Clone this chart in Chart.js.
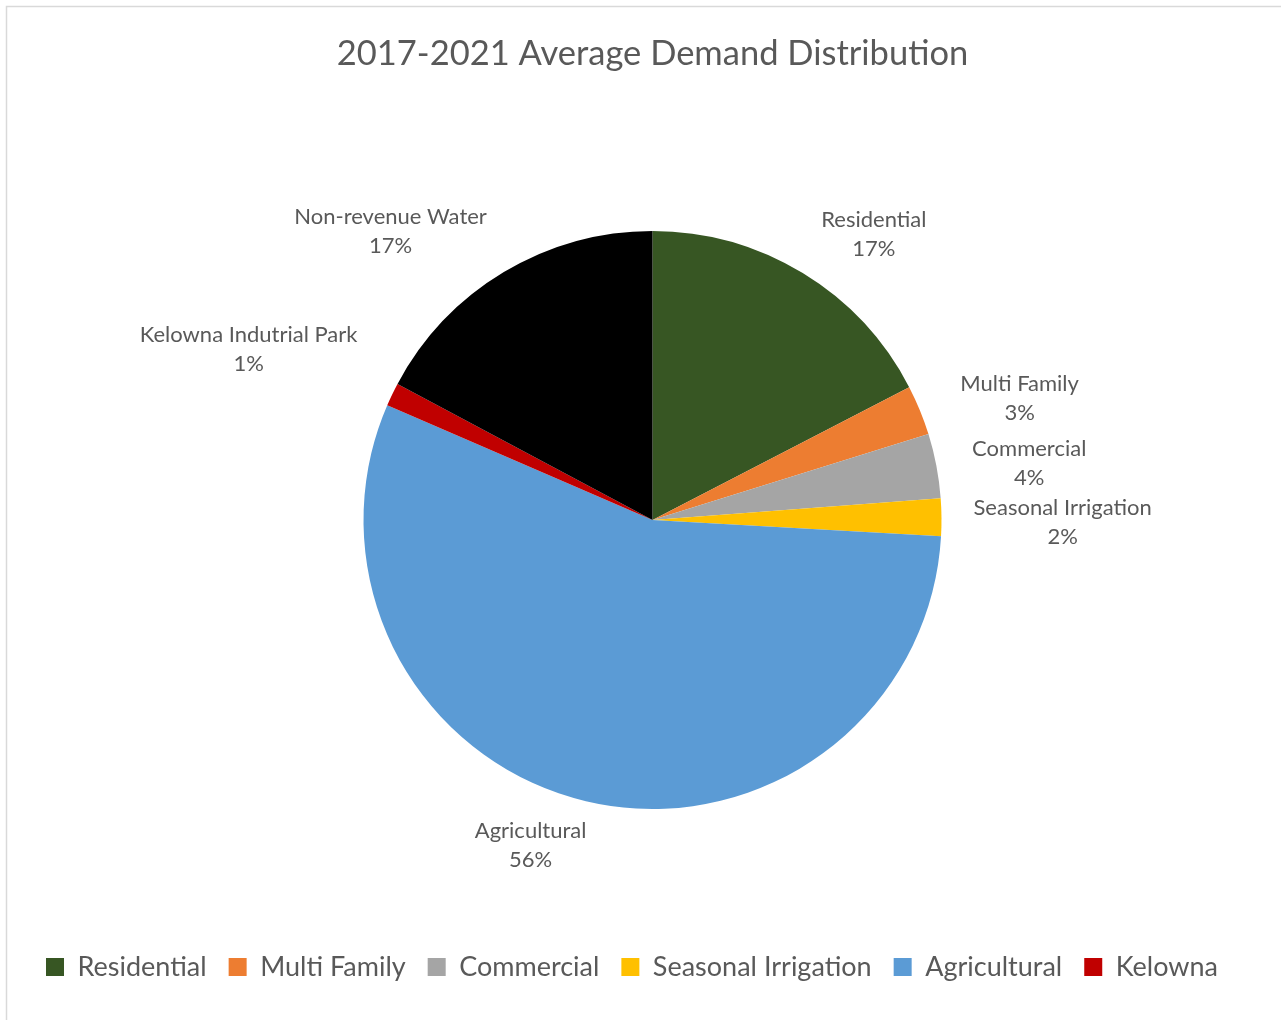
<!DOCTYPE html>
<html lang="en">

<head>
    <meta charset="UTF-8">
    <title>2017-2021 Average Demand Distribution</title>
    <script src="https://cdn.jsdelivr.net/npm/chart.js"></script>
    <style>
        body {
            margin: 0;
            background: #ffffff;
        }

        #wrap {
            width: 1281px;
            height: 1020px;
        }
    </style>
</head>

<body>
    <div id="wrap"><canvas id="demandChart"></canvas></div>

    <script>
const categories = [
  "Residential",
  "Multi Family",
  "Commercial",
  "Seasonal Irrigation",
  "Agricultural",
  "Kelowna Indutrial Park",
  "Non-revenue Water"
];
// share of demand, %
const shares = [17.4, 2.8, 3.6, 2.1, 55.6, 1.3, 17.2];
// legend in the original is cut short after the sixth entry
const legendLabels = ["Residential", "Multi Family", "Commercial", "Seasonal Irrigation", "Agricultural", "Kelowna"];

const colors = ["#375623", "#ED7D31", "#A5A5A5", "#FFC000", "#5B9BD5", "#C00000", "#000000"];
const textColor = "#595959";
const fontFamily = "Lato, 'Liberation Sans', sans-serif";

// frame round the chart like the spreadsheet export
const framePlugin = {
  id: 'frame',
  beforeDraw(chart) {
    const ctx = chart.ctx;
    ctx.save();
    ctx.fillStyle = '#ffffff';
    ctx.fillRect(0, 0, chart.width, chart.height);
    ctx.strokeStyle = '#d9d9d9';
    ctx.lineWidth = 1.5;
    ctx.beginPath();
    ctx.moveTo(6.5, chart.height);
    ctx.lineTo(6.5, 6.5);
    ctx.lineTo(chart.width, 6.5);
    ctx.stroke();
    ctx.restore();
  }
};

// category name + percent outside each slice
const outsideLabels = {
  id: 'outsideLabels',
  afterDatasetsDraw(chart, args, opts) {
    const ctx = chart.ctx;
    const meta = chart.getDatasetMeta(0);
    const data = chart.data.datasets[0].data;
    const total = data.reduce((a, b) => a + b, 0);
    ctx.save();
    ctx.font = opts.size + 'px ' + fontFamily;
    ctx.fillStyle = textColor;
    ctx.textAlign = 'center';
    ctx.textBaseline = 'middle';
    meta.data.forEach((arc, i) => {
      const p = arc.getProps(['x', 'y', 'startAngle', 'endAngle', 'outerRadius'], true);
      const mid = (p.startAngle + p.endAngle) / 2;
      const c = Math.cos(mid), s = Math.sin(mid);
      const lines = [chart.data.labels[i], Math.round(data[i] / total * 100) + '%'];
      const w = Math.max(...lines.map(t => ctx.measureText(t).width));
      const h = opts.lineHeight * 2;
      const r = p.outerRadius + opts.gap;
      const nudge = opts.nudge[i] || [0, 0];
      const cx = p.x + c * r + c * w / 2 + nudge[0];
      const cy = p.y + s * r + s * h / 2 + nudge[1];
      ctx.fillText(lines[0], cx, cy - opts.lineHeight / 2);
      ctx.fillText(lines[1], cx, cy + opts.lineHeight / 2);
    });
    ctx.restore();
  }
};

const ctx = document.getElementById('demandChart').getContext('2d');
new Chart(ctx, {
  type: 'pie',
  data: {
    labels: categories,
    datasets: [{
      data: shares,
      backgroundColor: colors,
      borderWidth: 0,
      radius: 289
    }]
  },
  options: {
    responsive: true,
    maintainAspectRatio: false,
    animation: false,
    layout: {
      padding: { left: 24, right: 0, top: 0, bottom: 29.5 }
    },
    plugins: {
      title: {
        display: true,
        text: '2017-2021 Average Demand Distribution',
        color: textColor,
        font: { family: fontFamily, size: 34.5, weight: 'normal' },
        padding: { top: 33, bottom: 34 }
      },
      legend: {
        position: 'bottom',
        align: 'start',
        labels: {
          color: textColor,
          font: { family: fontFamily, size: 27 },
          boxWidth: 18,
          boxHeight: 18,
          padding: 22,
          generateLabels: () => legendLabels.map((text, i) => ({
            text: text,
            fillStyle: colors[i],
            strokeStyle: colors[i],
            lineWidth: 0,
            hidden: false,
            index: i,
            fontColor: textColor
          }))
        }
      },
      tooltip: { enabled: false },
      outsideLabels: {
        size: 22,
        lineHeight: 29,
        gap: 15,
        nudge: [[36, -1], [31, 5], [22, 6], [17, 6], [-39, 1], [-32, -26], [-56, -3]]
      }
    }
  },
  plugins: [framePlugin, outsideLabels]
});
    </script>
</body>

</html>
